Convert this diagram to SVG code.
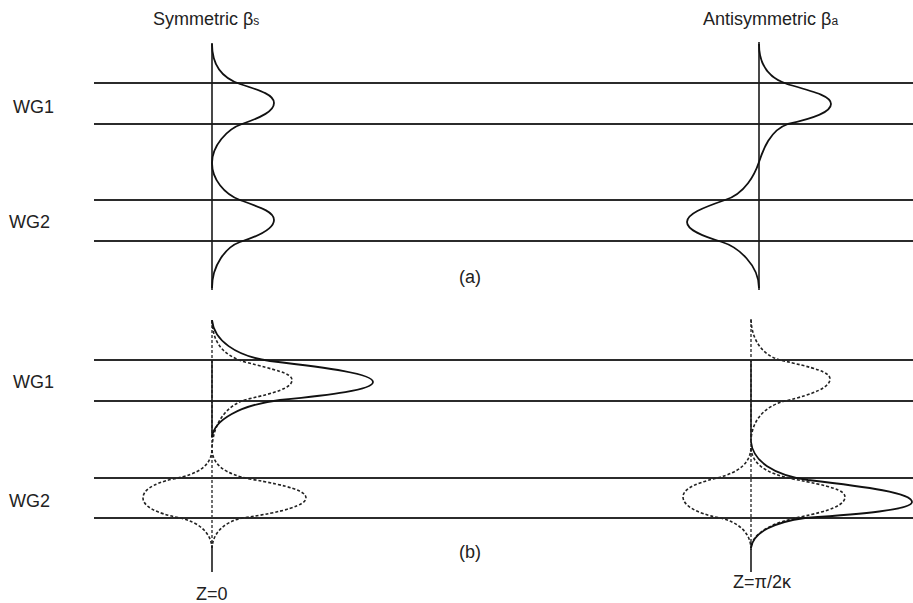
<svg xmlns="http://www.w3.org/2000/svg" width="913" height="603" viewBox="0 0 913 603">
<style>
  .bg{fill:#ffffff}
  .guide{stroke:#2b2b2b;stroke-width:2;fill:none}
  .axis{stroke:#1a1a1a;stroke-width:1.6;fill:none}
  .axisdot{stroke:#333333;stroke-width:1.4;fill:none;stroke-dasharray:3 2}
  .curve{stroke:#111111;stroke-width:1.8;fill:none}
  .dot{stroke:#222222;stroke-width:1.6;fill:none;stroke-dasharray:3 2}
  .lbl{font-family:"Liberation Sans",Arial,sans-serif;font-size:18px;fill:#222222}
  .sub{font-size:12px}
</style>
<rect class="bg" x="0" y="0" width="913" height="603"/>

<g id="panel-a">
  <g id="a-waveguides">
    <line class="guide" x1="94" y1="83" x2="913" y2="83"/>
    <line class="guide" x1="94" y1="124" x2="913" y2="124"/>
    <line class="guide" x1="94" y1="200" x2="913" y2="200"/>
    <line class="guide" x1="94" y1="241" x2="913" y2="241"/>
  </g>
  <g id="a-symmetric">
    <line class="axis" x1="212" y1="43" x2="212" y2="290"/>
    <path class="curve" d="M212,44 C212,66 222,78 240,84 C262,91 274,95 274,103 C274,111 262,117 242,124 C227,129 212,146 212,163 C212,179 224,194 240,200 C262,208 274,212 274,220 C274,228 262,235 240,242 C226,247 212,265 212,288"/>
    <text class="lbl" x="153" y="25">Symmetric β<tspan class="sub">s</tspan></text>
  </g>
  <g id="a-antisymmetric">
    <line class="axis" x1="759" y1="42" x2="759" y2="290"/>
    <path class="curve" d="M759,44 C759,66 769,78 787,84 C815,92 831,96 831,104 C831,112 815,118 788,124 C770,130 763,150 759,162 C755,174 745,194 725,200 C702,208 687,214 687,222 C687,230 702,236 722,242 C738,247 759,265 759,288"/>
    <text class="lbl" x="703" y="25">Antisymmetric β<tspan class="sub">a</tspan></text>
  </g>
  <text class="lbl" x="13" y="113">WG1</text>
  <text class="lbl" x="9" y="228">WG2</text>
  <text class="lbl" x="459" y="283">(a)</text>
</g>

<g id="panel-b">
  <g id="b-waveguides">
    <line class="guide" x1="94" y1="360" x2="913" y2="360"/>
    <line class="guide" x1="94" y1="401" x2="913" y2="401"/>
    <line class="guide" x1="94" y1="478" x2="913" y2="478"/>
    <line class="guide" x1="94" y1="518" x2="913" y2="518"/>
  </g>
  <g id="b-z0">
    <line class="axisdot" x1="212" y1="320" x2="212" y2="550"/>
    <line class="axis" x1="212" y1="360" x2="212" y2="437"/>
    <line class="axis" x1="212" y1="548" x2="212" y2="572"/>
    <path class="dot" d="M212,321 C213,342 222,355 245,362 C275,370 292,373 292,380 C292,388 275,393 248,399 C225,405 213,425 212,448"/>
    <path class="dot" d="M212,450 C213,465 225,474 250,479 C290,486 306,491 306,498 C306,505 285,512 242,518 C225,522 213,532 212,548"/>
    <path class="dot" d="M212,450 C211,465 200,474 173,479 C151,484 143,491 143,498 C143,506 155,513 180,518 C198,522 211,532 212,548"/>
    <path class="curve" d="M212,320 C214,340 235,356 270,361 C330,368 373,374 373,382 C373,390 330,395 280,400 C240,405 214,420 212,437"/>
    <text class="lbl" x="196" y="600">Z=0</text>
  </g>
  <g id="b-zpi">
    <line class="axisdot" x1="751" y1="319" x2="751" y2="550"/>
    <line class="axis" x1="751" y1="360" x2="751" y2="442"/>
    <line class="axis" x1="751" y1="548" x2="751" y2="572"/>
    <path class="dot" d="M751,320 C752,340 762,355 780,360 C815,368 830,372 830,379 C830,387 815,394 785,401 C765,406 752,420 751,440"/>
    <path class="dot" d="M751,448 C752,463 764,473 793,479 C830,486 845,490 845,497 C845,505 830,511 800,517 C775,522 752,532 751,548"/>
    <path class="dot" d="M751,448 C750,463 740,472 717,478 C692,484 683,490 683,497 C683,505 695,513 720,518 C738,522 750,532 751,548"/>
    <path class="curve" d="M751,442 C753,461 773,475 808,480 C868,487 912,493 912,502 C912,510 860,514 805,518 C775,522 753,532 751,548"/>
    <text class="lbl" x="733" y="588">Z=π/2κ</text>
  </g>
  <text class="lbl" x="13" y="388">WG1</text>
  <text class="lbl" x="9" y="507">WG2</text>
  <text class="lbl" x="459" y="558">(b)</text>
</g>
</svg>
